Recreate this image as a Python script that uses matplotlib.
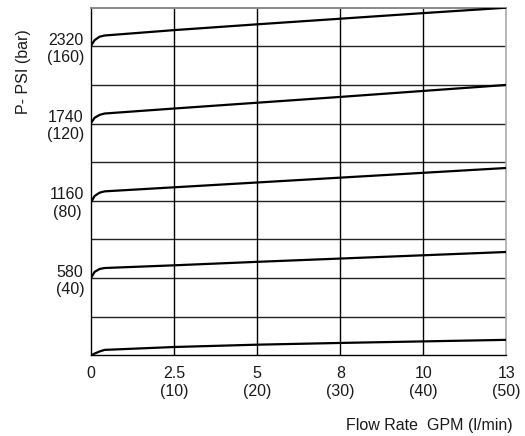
import matplotlib
matplotlib.use("Agg")
import matplotlib.pyplot as plt

plt.rcParams['font.family'] = ['Liberation Sans', 'DejaVu Sans']

# Data (flow in l/min, pressure in bar)
flow = [0, 0.4, 1.0, 1.6, 10, 20, 30, 40, 50]
p160 = [160.5, 163.2, 165.0, 165.6, 168.4, 171.4, 174.3, 177.2, 180.0]
p120 = [120.5, 123.0, 124.5, 125.2, 127.8, 130.8, 133.8, 136.9, 140.0]
p80 = [79.5, 82.5, 84.2, 84.9, 87.0, 89.5, 92.0, 94.5, 97.0]
p40 = [40.3, 43.2, 44.7, 45.2, 46.6, 48.4, 50.1, 51.8, 53.5]
p0 = [0.0, 0.9, 2.0, 2.8, 4.3, 5.5, 6.4, 7.2, 8.0]

x_ticks = [0, 10, 20, 30, 40, 50]
x_labels = ["0", "2.5\n(10)", "5\n(20)", "8\n(30)", "10\n(40)", "13\n(50)"]
y_ticks = [0, 20, 40, 60, 80, 100, 120, 140, 160, 180]
y_labels = ["", "", "580\n(40)", "", "1160\n(80)", "", "1740\n(120)", "", "2320\n(160)", ""]
y_title = "P- PSI (bar)"
x_title = "Flow Rate  GPM (l/min)"

W, H = 525, 436
fig = plt.figure(figsize=(W / 100, H / 100), dpi=100)
ax = fig.add_axes([91.3 / W, 1 - 355.3 / H, 415 / W, 347.6 / H])

for s in [p160, p120, p80, p40, p0]:
    ax.plot(flow, s, color='black', lw=1.6, solid_joinstyle='round', zorder=3)

ax.set_xlim(0, 50)
ax.set_ylim(0, 180)
ax.set_xticks(x_ticks)
ax.set_xticklabels(x_labels, fontsize=11.5, color='#1a1a1a')
ax.set_yticks(y_ticks)
ax.set_yticklabels(y_labels, fontsize=11.5, color='#1a1a1a')
for t in ax.get_yticklabels():
    t.set_multialignment('center')
ax.tick_params(axis='both', length=0)
ax.tick_params(axis='x', pad=8)
ax.tick_params(axis='y', pad=5)

for yv in y_ticks[1:-1]:
    ax.axhline(yv, color='#222222', lw=1.0, zorder=1)
for xv in x_ticks[1:-1]:
    ax.axvline(xv, color='black', lw=1.0, zorder=1)

ax.spines['left'].set_color('black')
ax.spines['left'].set_linewidth(1.0)
ax.spines['bottom'].set_color('black')
ax.spines['bottom'].set_linewidth(1.0)
ax.spines['top'].set_color('#888888')
ax.spines['top'].set_linewidth(1.4)
ax.spines['right'].set_color('#aaaaaa')
ax.spines['right'].set_linewidth(1.2)

fig.text(23.5 / W, 1 - 72 / H, y_title, rotation=90, ha='center', va='center',
         fontsize=11.5, color='#1a1a1a')
fig.text(513 / W, 1 - 425 / H, x_title, ha='right', va='center',
         fontsize=11.5, color='#1a1a1a')

fig.savefig("out.png", dpi=100)
